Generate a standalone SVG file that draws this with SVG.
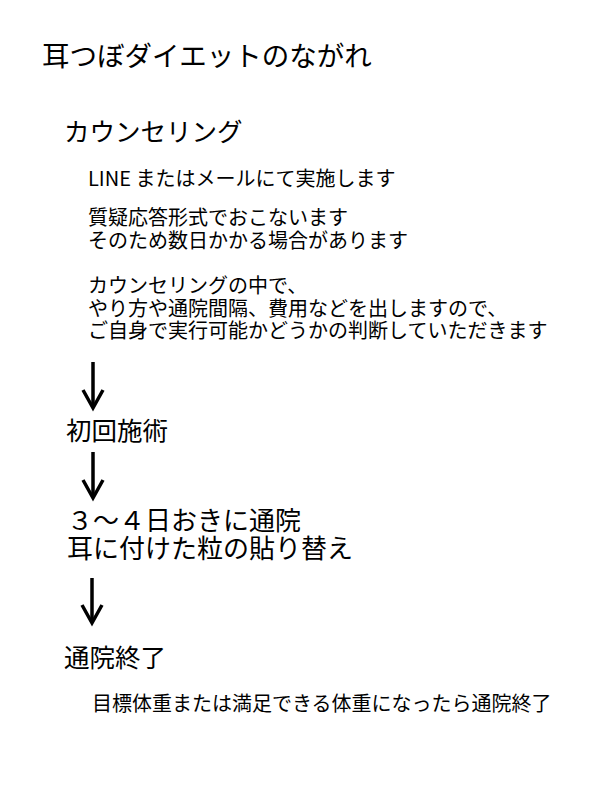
<svg xmlns="http://www.w3.org/2000/svg" width="600" height="800" viewBox="0 0 600 800">
<style>
text { font-family: "Noto Sans CJK JP", "Noto Sans", sans-serif; fill: #000; }
.title { font-size: 27.5px; }
.step { font-size: 25.5px; }
.step2 { font-size: 26px; }
.body { font-size: 20px; }
.arrow { stroke: #000; stroke-width: 3.5; fill: none; }
</style>
<defs>
<marker id="head" markerUnits="userSpaceOnUse" viewBox="-22 -13 26 26" markerWidth="26" markerHeight="26" refX="0" refY="0" orient="auto">
<path d="M-18,-10 L0,0 L-18,10" fill="none" stroke="#000" stroke-width="3.5" stroke-linejoin="miter"/>
</marker>
</defs>
<rect width="600" height="800" fill="#fff"/>
<g id="title">
<text class="title" x="42" y="66">耳つぼダイエットのながれ</text>
</g>
<g id="counseling">
<text class="step" x="64" y="141">カウンセリング</text>
<text class="body" x="88" y="186">LINE またはメールにて実施します</text>
<text class="body"><tspan x="88" y="225">質疑応答形式でおこないます</tspan><tspan x="88" y="248">そのため数日かかる場合があります</tspan></text>
<text class="body"><tspan x="88" y="293">カウンセリングの中で、</tspan><tspan x="88" y="315.5">やり方や通院間隔、費用などを出しますので、</tspan><tspan x="88" y="338">ご自身で実行可能かどうかの判断していただきます</tspan></text>
</g>
<g id="first">
<text class="step" x="66" y="440">初回施術</text>
</g>
<g id="visits">
<text class="step2"><tspan x="67" y="530">３～４日おきに通院</tspan><tspan x="67" y="558">耳に付けた粒の貼り替え</tspan></text>
</g>
<g id="end">
<text class="step" x="64" y="667">通院終了</text>
<text class="body" x="92" y="711">目標体重または満足できる体重になったら通院終了</text>
</g>
<g id="connectors">
<path class="arrow" d="M93,362 L93,408" marker-end="url(#head)"/>
<path class="arrow" d="M93,452 L93,498" marker-end="url(#head)"/>
<path class="arrow" d="M92,578 L92,623" marker-end="url(#head)"/>
</g>
</svg>
